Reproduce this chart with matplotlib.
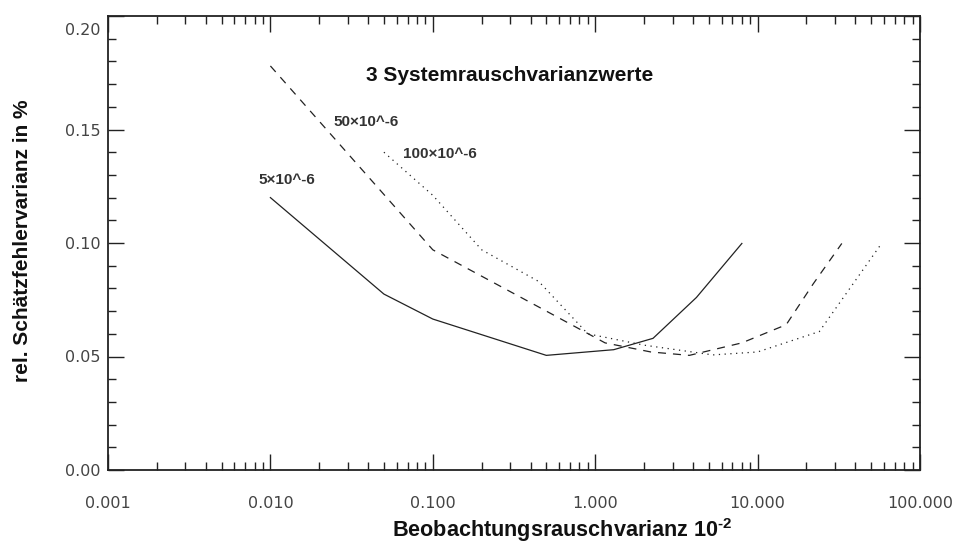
import matplotlib

matplotlib.use("Agg")
import matplotlib.pyplot as plt
import matplotlib.transforms as mtransforms
from matplotlib.ticker import FixedLocator, LogLocator, NullFormatter, MultipleLocator

plt.rcParams.update(
    {
        "font.family": "DejaVu Sans",
        "mathtext.fontset": "custom",
        "mathtext.rm": "Liberation Sans:bold",
        "mathtext.bf": "Liberation Sans:bold",
        "mathtext.default": "bf",
        "figure.facecolor": "white",
        "savefig.facecolor": "white",
    }
)

# series (x: Beobachtungsrauschvarianz, y: rel. Schaetzfehlervarianz)
x_5 = [0.01, 0.05, 0.1, 0.5, 1.3, 2.27, 4.2, 8.0]
y_5 = [0.120, 0.0775, 0.0665, 0.0505, 0.0530, 0.0580, 0.0760, 0.0998]

x_50 = [0.01, 0.1, 0.5, 1.15, 2.2, 3.8, 8.0, 15.0, 22.0, 33.0]
y_50 = [0.178, 0.097, 0.070, 0.0560, 0.0520, 0.0505, 0.0560, 0.0640, 0.0820, 0.0998]

x_100 = [0.05, 0.1, 0.2, 0.45, 0.9, 2.0, 5.3, 10.0, 24.0, 58.0]
y_100 = [0.140, 0.121, 0.097, 0.083, 0.060, 0.055, 0.0507, 0.0520, 0.0610, 0.0998]

series_labels = ["5\u00d710^-6", "50\u00d710^-6", "100\u00d710^-6"]
x_ticks = [0.001, 0.01, 0.1, 1.0, 10.0, 100.0]
x_ticklabels = ["0.001", "0.010", "0.100", "1.000", "10.000", "100.000"]
y_ticks = [0.0, 0.05, 0.10, 0.15, 0.20]
y_ticklabels = ["0.00", "0.05", "0.10", "0.15", "0.20"]

fig = plt.figure(figsize=(9.55, 5.42), dpi=100)
ax = fig.add_axes([108 / 955, 72 / 542, 812 / 955, 454 / 542])

lw = 0.9
ax.plot(x_5, y_5, color="#222222", linewidth=lw)
(dashed,) = ax.plot(x_50, y_50, color="#222222", linewidth=lw)
dashed.set_dashes((6.4, 5.6))
(dotted,) = ax.plot(x_100, y_100, color="#222222", linewidth=lw)
dotted.set_dashes((1.0, 3.6))

ax.set_xscale("log")
ax.set_xlim(0.001, 100.0)
ax.set_ylim(0.0, 0.20)

ax.xaxis.set_major_locator(FixedLocator(x_ticks))
ax.set_xticklabels(x_ticklabels)
ax.xaxis.set_minor_locator(LogLocator(base=10, subs=range(2, 10)))
ax.xaxis.set_minor_formatter(NullFormatter())
ax.set_yticks(y_ticks)
ax.set_yticklabels(y_ticklabels)
ax.yaxis.set_minor_locator(MultipleLocator(0.01))

ax.tick_params(which="both", direction="in", top=True, right=True, width=1.0, color="#222222")
ax.tick_params(which="major", length=11.5)
ax.tick_params(which="minor", length=5.5)
ax.tick_params(axis="x", which="major", pad=19, labelsize=11.5, labelcolor="#444444")
ax.tick_params(axis="y", which="major", pad=5.5, labelsize=11.5, labelcolor="#444444")
for spine in ax.spines.values():
    spine.set_linewidth(1.3)
    spine.set_color("#222222")

# the top label sits a bit lower in the reference
top_label = ax.get_yticklabels()[-1]
top_label.set_transform(top_label.get_transform() + mtransforms.ScaledTranslation(0, -13 / 100, fig.dpi_scale_trans))

bold = dict(family="Liberation Sans", fontweight="bold", color="#111111")
ax.set_xlabel("Beobachtungsrauschvarianz 10$^{\u2010 2}$", fontsize=15.6, **bold)
ax.xaxis.label.set_verticalalignment("center")
ax.xaxis.set_label_coords(0.560, -0.132)
ax.set_ylabel("rel. Sch\u00e4tzfehlervarianz in %", fontsize=15, **bold)
ax.yaxis.label.set_verticalalignment("center")
ax.yaxis.set_label_coords(-0.105, 0.504)

ax.text(0.495, 0.870, "3 Systemrauschvarianzwerte", transform=ax.transAxes,
        ha="center", va="center", fontsize=15, **bold)

label_pos = [(0.0084, 0.1278), (0.0243, 0.1533), (0.0655, 0.1392)]
for (lx, ly), txt in zip(label_pos, series_labels):
    ax.text(lx, ly, txt, ha="left", va="center", fontsize=11,
            family="Liberation Sans", fontweight="bold", color="#333333")

fig.savefig("out.png", dpi=100)
